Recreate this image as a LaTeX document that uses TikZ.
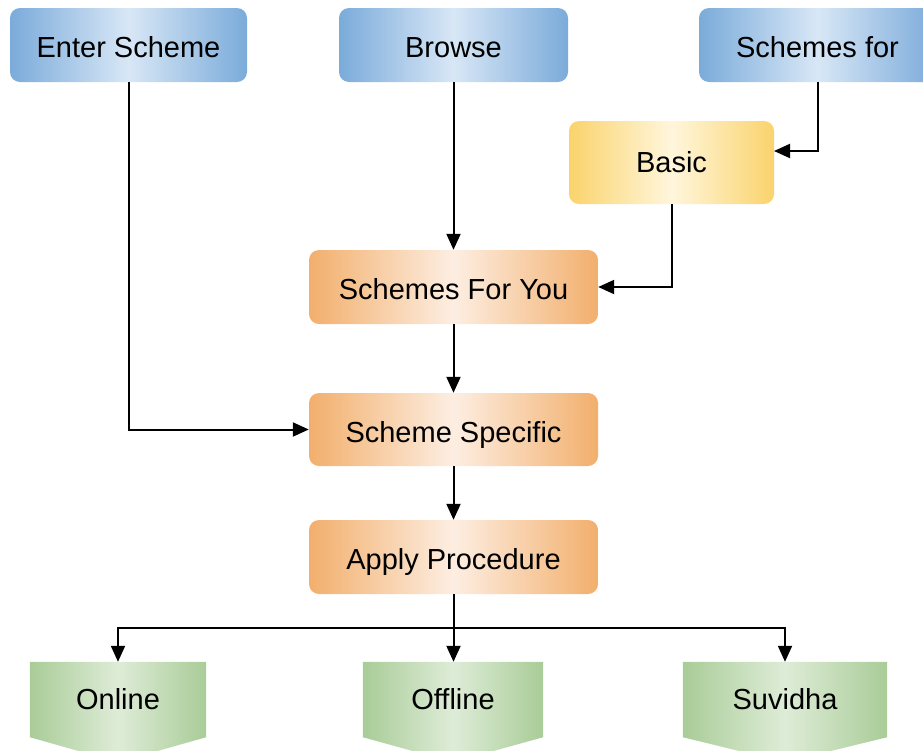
\documentclass[tikz,border=0pt]{standalone}
\usepackage{fontspec}
\setmainfont{Liberation Sans}
\usetikzlibrary{arrows.meta,calc}
\pgfdeclarelayer{bg}
\pgfsetlayers{bg,main}
\definecolor{blueE}{HTML}{7BABDA}
\definecolor{blueC}{HTML}{D8E7F6}
\definecolor{yelE}{HTML}{FAD36C}
\definecolor{yelC}{HTML}{FFF6DC}
\definecolor{orE}{HTML}{F2AF6C}
\definecolor{orC}{HTML}{FDEEE2}
\definecolor{grE}{HTML}{A9CC98}
\definecolor{grC}{HTML}{DEECD7}
\tikzset{
  txt/.style={font=\fontsize{29}{34}\selectfont, text=black, text height=25pt, text depth=0pt},
  box/.style={txt, rounded corners=10pt, inner sep=0pt, minimum height=74pt},
  bluebox/.style={box, left color=blueE, right color=blueE, middle color=blueC},
  yelbox/.style={box, text height=19pt, left color=yelE, right color=yelE, middle color=yelC},
  orbox/.style={box, minimum width=289pt, left color=orE, right color=orE, middle color=orC},
  grbox/.style={txt, text height=19pt, inner sep=0pt, minimum height=75pt},
  grfill/.style={left color=grE, right color=grE, middle color=grC},
  conn/.style={line width=2pt, -{Triangle[length=16pt,width=14pt]}},
  plain/.style={line width=2pt}
}
\begin{document}
\begin{tikzpicture}[x=1pt,y=-1pt]
\useasboundingbox (0,0) rectangle (923,750);
% top row
\node[bluebox, minimum width=237pt] (enter) at (128.5,45) {Enter Scheme};
\node[bluebox, minimum width=229pt] (browse) at (453.5,45) {Browse};
\node[bluebox, minimum width=237pt] (schfor) at (817.5,45) {Schemes for};
\node[yelbox, minimum width=205pt, minimum height=83pt] (basic) at (671.5,162.5) {Basic};
% middle column
\node[orbox] (sfy) at (453.5,287) {Schemes For You};
\node[orbox, minimum height=73pt] (spec) at (453.5,429.5) {Scheme Specific};
\node[orbox] (apply) at (453.5,557) {Apply Procedure};
% bottom row
\node[grbox, minimum width=176pt] (online) at (118,699.5) {Online};
\node[grbox, minimum width=180pt] (offline) at (453,699.5) {Offline};
\node[grbox, minimum width=204pt] (suvidha) at (785,699.5) {Suvidha};
\begin{pgfonlayer}{bg}
\foreach \n in {online,offline,suvidha}{
  \shade[grfill] (\n.north west) -- (\n.north east) -- (\n.south east)
    -- ($(\n.south)+(0,25)$) -- (\n.south west) -- cycle;
}
\end{pgfonlayer}
% connectors
\coordinate (bin) at (774,151);
\coordinate (split) at (453.5,628);
\draw[conn] (enter.south) |- (spec.west);
\draw[conn] (browse) -- (sfy);
\draw[conn] (schfor.south) |- (bin);
\draw[conn] (basic.south) |- (sfy.east);
\draw[conn] (sfy) -- (spec);
\draw[conn] (spec) -- (apply);
\draw[plain] (apply.south) -- (split);
\draw[conn] (split) -| (online.north);
\draw[conn] (split) -- (split |- offline.north);
\draw[conn] (split) -| (suvidha.north);
\end{tikzpicture}
\end{document}
